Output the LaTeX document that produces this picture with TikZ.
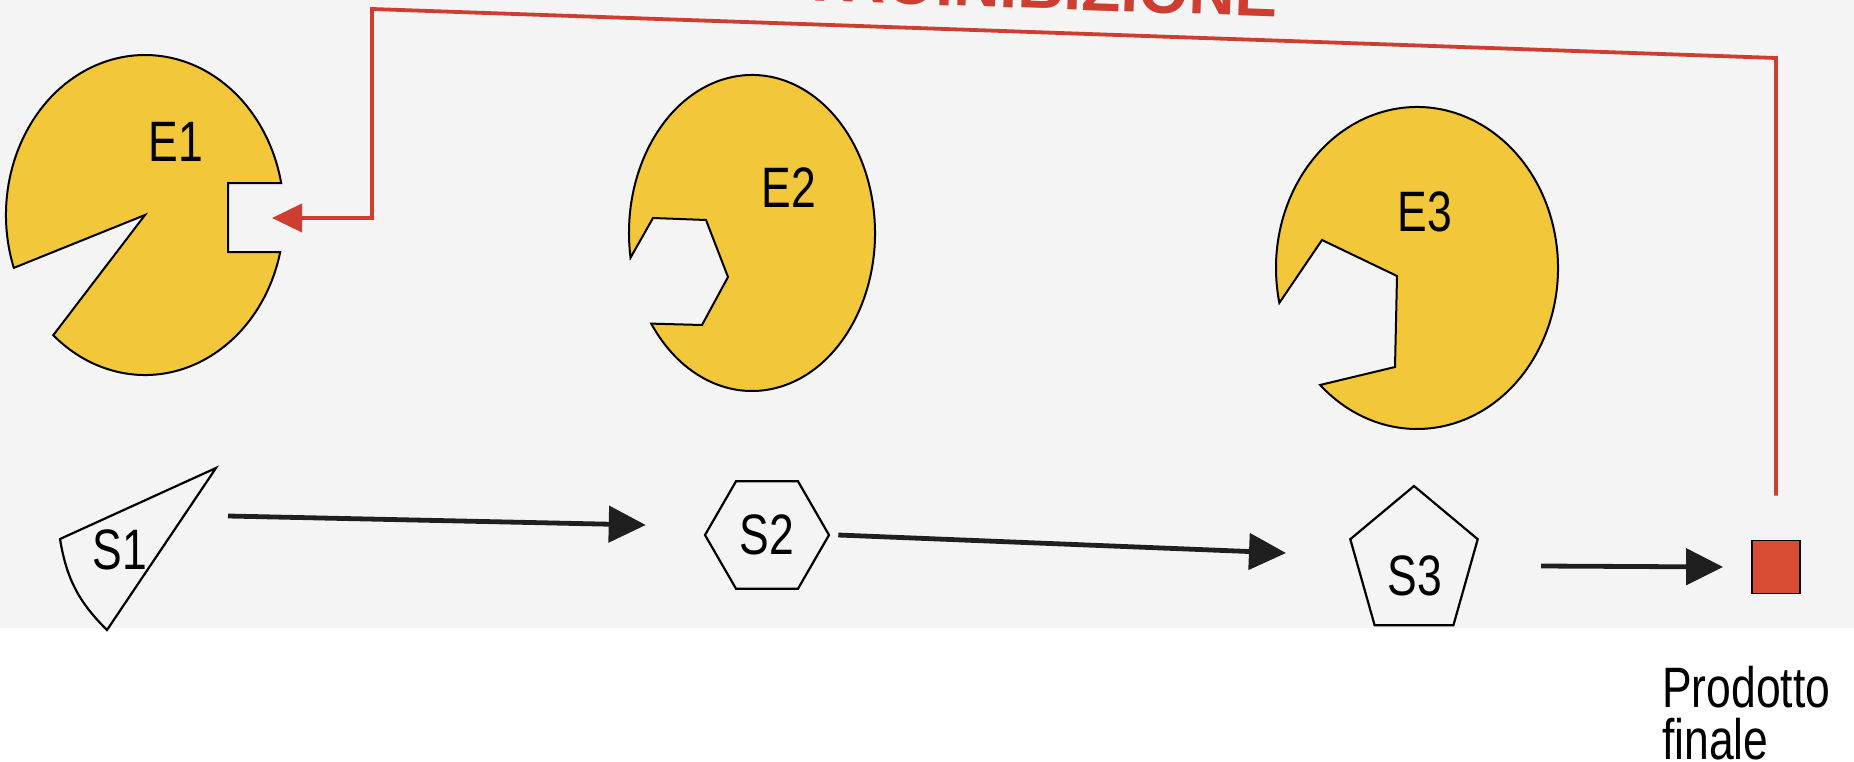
\documentclass[tikz,border=0pt]{standalone}
\usepackage{fontspec}
\setmainfont{Liberation Sans}
\newfontfamily\narrowsans[FakeStretch=0.78]{Liberation Sans}
\usetikzlibrary{shapes.geometric, positioning, arrows.meta, calc}

\definecolor{enzymeyellow}{RGB}{243,199,58}
\definecolor{inhibred}{RGB}{205,62,48}
\definecolor{productred}{RGB}{216,76,52}
\definecolor{pagegray}{RGB}{244,244,244}

\begin{document}
\begin{tikzpicture}[
    x=1pt, y=-1pt,
    enzyme/.style={draw=black, line width=2pt, fill=enzymeyellow},
    substrate/.style={draw=black, line width=2.2pt, regular polygon, inner sep=0pt},
    elabel/.style={font=\narrowsans\fontsize{57}{52}\selectfont},
    flow/.style={line width=4.8pt, draw=black!88, -{Triangle[length=37pt,width=36pt]}},
    feedback/.style={line width=3.8pt, draw=inhibred, -{Triangle[length=30pt,width=28pt]}}
]
    \useasboundingbox (0,0) rectangle (1854,762);
    \clip (0,0) rectangle (1854,762);
    \fill[pagegray] (0,0) rectangle (1854,628);

    % Enzymes E1, E2, E3 with their binding sites cut out
    \coordinate (E1c) at (145,215);
    \draw[enzyme] ($(E1c)+(13.4:139 and 160)$)
        arc[start angle=13.4, end angle=131.3, x radius=139, y radius=160]
        -- (E1c) -- ($(E1c)+(160.7:139 and 160)$)
        arc[start angle=160.7, end angle=348.5, x radius=139, y radius=160]
        -- (228,183) -- (228,252) -- cycle;
    \node[elabel] (E1) at (176,142) {E1};
    \coordinate (E1site) at (272,218);

    \coordinate (E2c) at (752,233);
    \draw[enzyme] ($(E2c)+(171:123 and 158)$)
        arc[start angle=171, end angle=505, x radius=123, y radius=158]
        -- (702,325) -- (728,277) -- (706,220) -- (653,218) -- cycle;
    \node[elabel] (E2) at (789,188) {E2};

    \coordinate (E3c) at (1417,268);
    \draw[enzyme] ($(E3c)+(167.5:141 and 161)$)
        arc[start angle=167.5, end angle=493.4, x radius=141, y radius=161]
        -- (1395,367) -- (1397,276) -- (1322,240) -- cycle;
    \node[elabel] (E3) at (1425,212) {E3};

    % Substrates and final product
    \draw[line width=2.2pt] (216,468) -- (60,539) to[bend right=18] (107,630) -- cycle;
    \node[elabel] (S1) at (120,550) {S1};
    \node[substrate, regular polygon sides=6, minimum size=124pt, elabel] (S2) at (767,535) {S2};
    \coordinate (S3c) at (1414,563);
    \draw[line width=2.2pt] ($(S3c)+(270:67 and 77)$) -- ($(S3c)+(342:67 and 77)$)
        -- ($(S3c)+(54:67 and 77)$) -- ($(S3c)+(126:67 and 77)$)
        -- ($(S3c)+(198:67 and 77)$) -- cycle;
    \node[elabel] (S3) at (1415,576) {S3};
    \node[draw=black, line width=1.8pt, fill=productred, minimum width=48pt,
          minimum height=53pt, inner sep=0pt] (P) at (1776,567) {};
    \node[elabel, align=left, anchor=north west, inner sep=0pt] (Plabel) at (1662,666) {Prodotto\\finale};

    % Reaction chain
    \draw[flow] ([xshift=108pt, yshift=34pt]S1.center) -- ([xshift=-58pt, yshift=10pt]S2.west);
    \draw[flow] ([xshift=8pt]S2.east) -- ([xshift=-129pt, yshift=23pt]S3.center);
    \draw[flow] ([xshift=126pt, yshift=10pt]S3.center) -- ([xshift=-28pt]P.west);

    % Feedback from the product back to E1
    \draw[feedback] ([yshift=44pt]P.north) -- (1776,58) -- (372,9) -- (372,218) -- (E1site);
    \node[font=\bfseries\fontsize{64}{64}\selectfont, text=inhibred, anchor=base east,
          inner sep=0pt, rotate=-2] (title) at (1277,17) {RETROINIBIZIONE};
\end{tikzpicture}
\end{document}
